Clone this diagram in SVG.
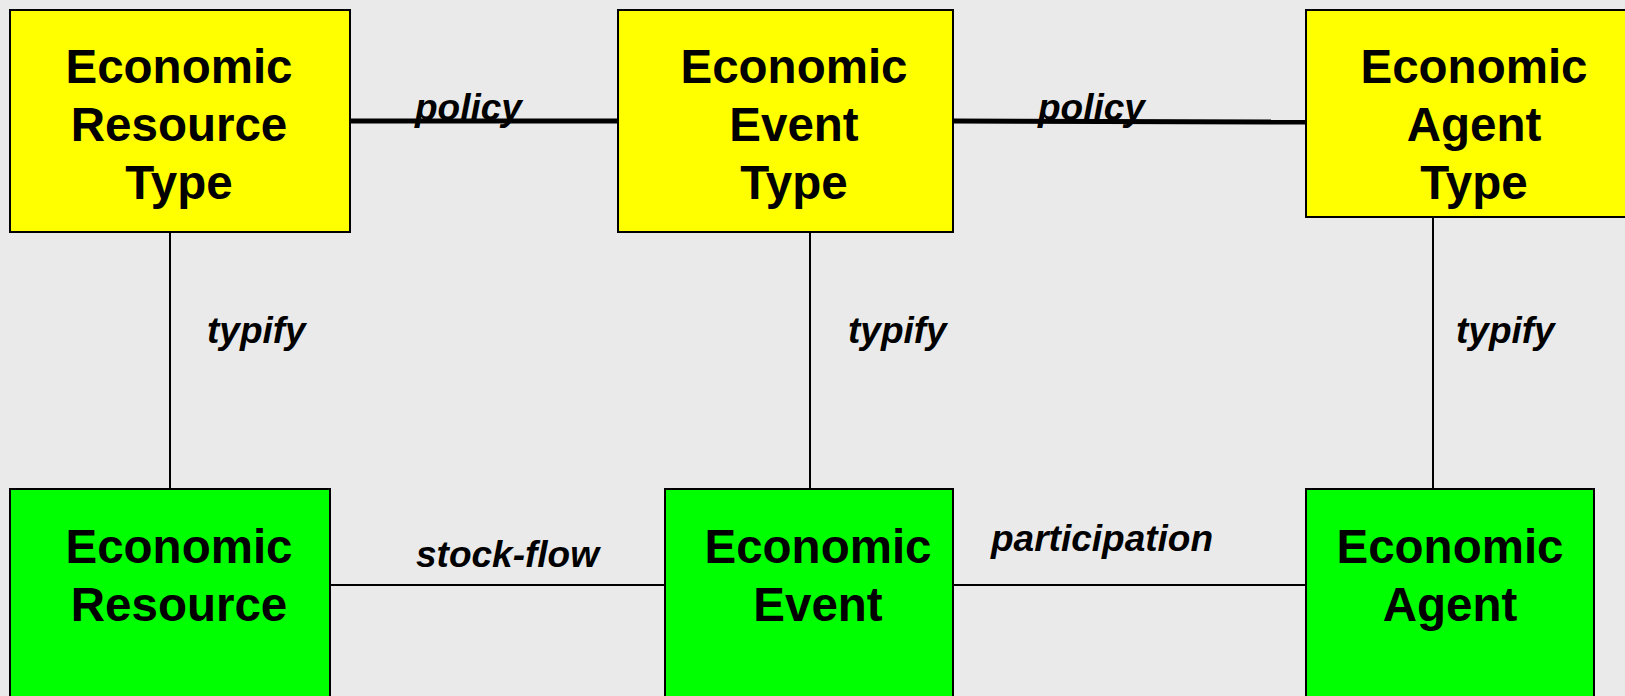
<svg xmlns="http://www.w3.org/2000/svg" width="1625" height="696" viewBox="0 0 1625 696">
<style>
.bg{fill:#eaeaea}
.type{fill:#ffff00;stroke:#000;stroke-width:2}
.inst{fill:#00ff00;stroke:#000;stroke-width:2}
.big{font-family:"Liberation Sans",Arial,sans-serif;font-weight:bold;font-size:47.5px;fill:#000;text-anchor:middle}
.lbl{font-family:"Liberation Sans",Arial,sans-serif;font-weight:bold;font-style:italic;font-size:37px;fill:#000}
.thin{stroke:#000;stroke-width:2;fill:none}
.thick{stroke:#000;stroke-width:5;fill:none}
</style>
<rect class="bg" x="0" y="0" width="1625" height="696"/>
<g id="connectors">
<line class="thick" x1="350" y1="121" x2="618" y2="121"/>
<line class="thick" x1="953" y1="121" x2="1306" y2="122"/>
<line class="thin" x1="170" y1="232" x2="170" y2="489"/>
<line class="thin" x1="810" y1="232" x2="810" y2="489"/>
<line class="thin" x1="1433" y1="217" x2="1433" y2="489"/>
<line class="thin" x1="330" y1="585" x2="665" y2="585"/>
<line class="thin" x1="953" y1="585" x2="1306" y2="585"/>
<text class="lbl" x="415" y="120">policy</text>
<text class="lbl" x="1038" y="120">policy</text>
<text class="lbl" x="207" y="343">typify</text>
<text class="lbl" x="848" y="343">typify</text>
<text class="lbl" x="1456" y="343">typify</text>
<text class="lbl" x="416" y="567">stock-flow</text>
<text class="lbl" x="991" y="551">participation</text>
</g>
<g id="economic-resource-type">
<rect class="type" x="10" y="10" width="340" height="222"/>
<text class="big" x="179" y="83">Economic</text>
<text class="big" x="179" y="141">Resource</text>
<text class="big" x="179" y="199">Type</text>
</g>
<g id="economic-event-type">
<rect class="type" x="618" y="10" width="335" height="222"/>
<text class="big" x="794" y="83">Economic</text>
<text class="big" x="794" y="141">Event</text>
<text class="big" x="794" y="199">Type</text>
</g>
<g id="economic-agent-type">
<rect class="type" x="1306" y="10" width="330" height="207"/>
<text class="big" x="1474" y="83">Economic</text>
<text class="big" x="1474" y="141">Agent</text>
<text class="big" x="1474" y="199">Type</text>
</g>
<g id="economic-resource">
<rect class="inst" x="10" y="489" width="320" height="220"/>
<text class="big" x="179" y="563">Economic</text>
<text class="big" x="179" y="621">Resource</text>
</g>
<g id="economic-event">
<rect class="inst" x="665" y="489" width="288" height="220"/>
<text class="big" x="818" y="563">Economic</text>
<text class="big" x="818" y="621">Event</text>
</g>
<g id="economic-agent">
<rect class="inst" x="1306" y="489" width="288" height="220"/>
<text class="big" x="1450" y="563">Economic</text>
<text class="big" x="1450" y="621">Agent</text>
</g>
</svg>
